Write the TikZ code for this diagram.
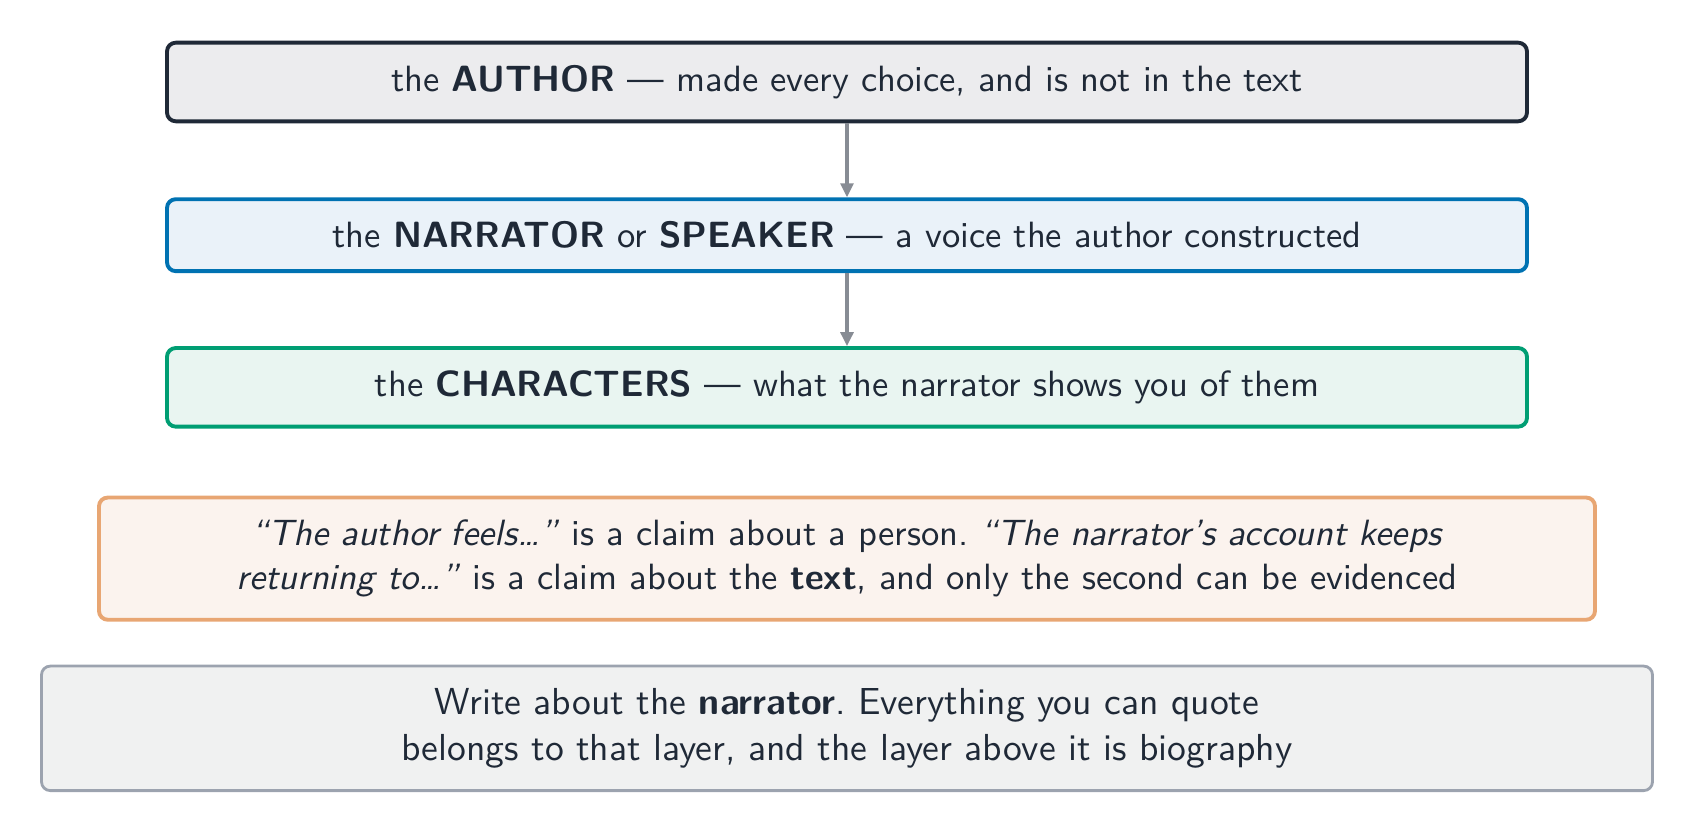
\documentclass[tikz,border=0pt]{standalone}
\usetikzlibrary{positioning,arrows.meta}
\renewcommand{\familydefault}{\sfdefault}
\frenchspacing
\definecolor{ink}{HTML}{1F2937}
\definecolor{authorline}{HTML}{1F2937}
\definecolor{authorfill}{HTML}{ECECEE}
\definecolor{narratorline}{HTML}{0072B2}
\definecolor{narratorfill}{HTML}{EAF2F9}
\definecolor{charline}{HTML}{009E73}
\definecolor{charfill}{HTML}{E9F5F1}
\definecolor{claimline}{HTML}{E8A673}
\definecolor{claimfill}{HTML}{FBF3EE}
\definecolor{adviceline}{HTML}{9CA3AF}
\definecolor{advicefill}{HTML}{F0F1F1}
\definecolor{linkgray}{HTML}{878C94}

\begin{document}
\begin{tikzpicture}[every node/.style={rounded corners=2.5pt, line width=1.1pt, align=center, text=ink, inner xsep=0pt, inner ysep=6.4pt, font=\fontsize{10.4}{12.5}\selectfont}, layer/.style={draw, minimum width=13.6cm}, link/.style={draw=linkgray, line width=0.9pt, -{Triangle[length=1.4mm,width=1.3mm]}}, node distance=0.74cm]
\useasboundingbox (0,0) rectangle (16.96,8.34);
\node[layer, draw=authorline, fill=authorfill] (author) at (8.47,7.52) {the \textbf{AUTHOR} --- made every choice, and is not in the text};
\node[layer, draw=narratorline, fill=narratorfill, below=of author] (narrator) {the \textbf{NARRATOR} or \textbf{SPEAKER} --- a voice the author constructed};
\node[layer, draw=charline, fill=charfill, below=0.73cm of narrator] (characters) {the \textbf{CHARACTERS} --- what the narrator shows you of them};
\node[draw=claimline, fill=claimfill, minimum width=14.96cm, below=0.67cm of characters] (claim) {\textit{“The author feels…”} is a claim about a person. \textit{“The narrator’s account keeps}\\ \textit{returning to…”} is a claim about the \textbf{text}, and only the second can be evidenced};
\node[draw=adviceline, fill=advicefill, line width=0.8pt, minimum width=16.11cm, font=\fontsize{10.7}{13}\selectfont, below=0.43cm of claim] (advice) {Write about the \textbf{narrator}. Everything you can quote\\ belongs to that layer, and the layer above it is biography};
\draw[link] (author) -- (narrator);
\draw[link] (narrator) -- (characters);
\end{tikzpicture}
\end{document}
